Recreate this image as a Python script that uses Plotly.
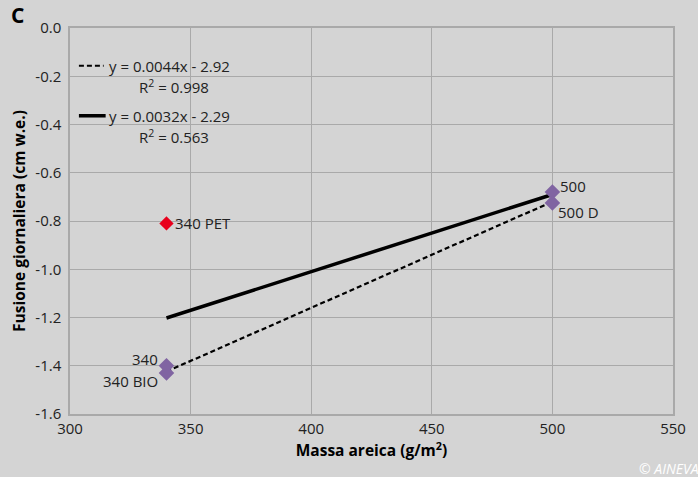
import plotly.graph_objects as go

# Data
mass = [340, 340, 500, 500]
melt = [-1.40, -1.43, -0.68, -0.725]
labels = ["340", "340 BIO", "500", "500 D"]

pet_mass = [340]
pet_melt = [-0.81]
pet_labels = ["340 PET"]

# Trendlines (from chart legend): slope, intercept, R2
fit1 = [0.0044, -2.92, 0.998]   # purple points only (dashed)
fit2 = [0.0032, -2.29, 0.563]   # all points (solid)
fit_x = [340, 500]

x_ticks = [300, 350, 400, 450, 500, 550]
y_ticks = [0.0, -0.2, -0.4, -0.6, -0.8, -1.0, -1.2, -1.4, -1.6]
y_ticktext = ["0.0", "-0.2", "-0.4", "-0.6", "-0.8", "-1.0", "-1.2", "-1.4", "-1.6"]

FONT = "Open Sans"
FS = 15
BG = "#d4d4d4"
GRID = "#a9a9a9"
TXT = "#222222"

fig = go.Figure()

fig.add_trace(go.Scatter(
    x=fit_x, y=[fit1[0] * v + fit1[1] for v in fit_x], mode="lines",
    line=dict(color="black", width=2.2, dash="5px,3px"), showlegend=False, hoverinfo="skip"))
fig.add_trace(go.Scatter(
    x=fit_x, y=[fit2[0] * v + fit2[1] for v in fit_x], mode="lines",
    line=dict(color="black", width=3.5), showlegend=False, hoverinfo="skip"))

fig.add_trace(go.Scatter(
    x=mass, y=melt, mode="markers",
    marker=dict(symbol="diamond", size=12, color="#8064a2"), showlegend=False))
fig.add_trace(go.Scatter(
    x=pet_mass, y=pet_melt, mode="markers",
    marker=dict(symbol="diamond", size=11, color="#e8001c"), showlegend=False))

# data labels (style offsets only)
lab_style = [
    dict(xanchor="right", xshift=-6, yshift=7),
    dict(xanchor="right", xshift=-6, yshift=-8),
    dict(xanchor="left", xshift=6, yshift=6),
    dict(xanchor="left", xshift=4, yshift=-9),
]
annos = []
for xv, yv, t, st in zip(mass, melt, labels, lab_style):
    annos.append(dict(x=xv, y=yv, xref="x", yref="y", text=t, showarrow=False, yanchor="middle",
                      font=dict(family=FONT, size=FS, color=TXT), **st))
for xv, yv, t in zip(pet_mass, pet_melt, pet_labels):
    annos.append(dict(x=xv, y=yv, xref="x", yref="y", text=t, showarrow=False, yanchor="middle",
                      xanchor="left", xshift=7, font=dict(family=FONT, size=FS, color=TXT)))

# manual legend
L, R, T, B = 70, 679, 28.3, 414
def px(x):
    return (x - L) / (R - L)
def py(y):
    return 1 - (y - T) / (B - T)

shapes = [
    dict(type="line", xref="paper", yref="paper", x0=px(79), x1=px(104), y0=py(66), y1=py(66),
         line=dict(color="black", width=2.2, dash="5px,3px")),
    dict(type="line", xref="paper", yref="paper", x0=px(79), x1=px(106), y0=py(116), y1=py(116),
         line=dict(color="black", width=3.5)),
]
for f, yy in [(fit1, 66), (fit2, 116)]:
    sign = "-" if f[1] < 0 else "+"
    annos.append(dict(xref="paper", yref="paper", x=px(107), y=py(yy), xanchor="left", yanchor="middle",
                      text=f"y = {f[0]:.4f}x {sign} {abs(f[1]):.2f}", showarrow=False,
                      font=dict(family=FONT, size=FS, color=TXT)))
    annos.append(dict(xref="paper", yref="paper", x=px(175), y=py(yy + 21), xanchor="center", yanchor="middle",
                      text=f"R<sup>2</sup> = {f[2]:.3f}", showarrow=False,
                      font=dict(family=FONT, size=FS, color=TXT)))

annos.append(dict(xref="paper", yref="paper", x=px(8), y=py(15), xanchor="left",
                  yanchor="middle", text="<b>C</b>", showarrow=False,
                  font=dict(family=FONT, size=21, color="black")))
annos.append(dict(xref="paper", yref="paper", x=px(643), y=py(468), xanchor="left",
                  yanchor="middle", text="<i>© AINEVA</i>", showarrow=False,
                  font=dict(family=FONT, size=14, color="white")))

fig.update_layout(
    width=698, height=477,
    margin=dict(l=L, r=698 - R, t=T, b=477 - B, pad=0),
    paper_bgcolor=BG, plot_bgcolor=BG,
    shapes=shapes, annotations=annos,
    font=dict(family=FONT, size=FS, color=TXT),
    xaxis=dict(range=[300, 550], tickvals=x_ticks, showgrid=True, gridcolor=GRID, gridwidth=1,
               showline=True, linecolor=GRID, linewidth=1.5, mirror=True, zeroline=False, ticks="",
               tickfont=dict(family=FONT, size=FS, color=TXT),
               title=dict(text="<b>Massa areica (g/m<sup>2</sup>)</b>", standoff=6,
                          font=dict(family=FONT, size=15.5, color="black"))),
    yaxis=dict(range=[-1.6, 0.0], tickvals=y_ticks, ticktext=y_ticktext, showgrid=True,
               gridcolor=GRID, gridwidth=1, ticklabelstandoff=4,
               showline=True, linecolor=GRID, linewidth=1.5, mirror=True, zeroline=False, ticks="",
               tickfont=dict(family=FONT, size=FS, color=TXT),
               title=dict(text="<b>Fusione giornaliera (cm w.e.)</b>", standoff=6,
                          font=dict(family=FONT, size=15.5, color="black"))),
)

fig.write_html("out.html", config={"displayModeBar": False},
               post_script="document.body.style.margin='0';document.body.style.overflow='hidden';")
